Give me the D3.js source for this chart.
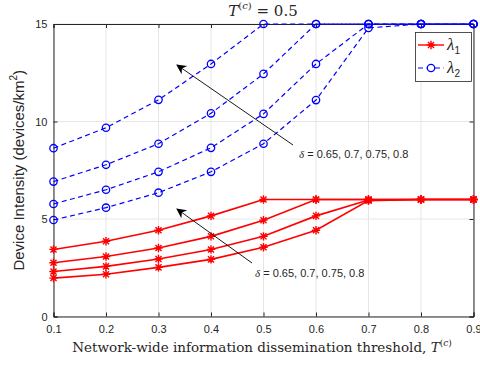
<!DOCTYPE html>
<html><head><meta charset="utf-8">
<script src="https://cdn.jsdelivr.net/npm/d3@7"></script>
<style>body{margin:0;background:#fff}svg{display:block}</style>
</head><body><svg id="c" width="480" height="367"></svg>
<script>
const thresholds = [0.1,0.2,0.3,0.4,0.5,0.6,0.7,0.8,0.9];
const lambda1 = [
  [3.44,3.86,4.42,5.16,6.0,6.0,6.0,6.0,6.0],
  [2.76,3.08,3.51,4.11,4.94,6.0,6.0,6.0,6.0],
  [2.31,2.57,2.95,3.44,4.11,5.16,5.97,6.0,6.0],
  [1.97,2.17,2.52,2.93,3.55,4.42,5.94,6.0,6.0]
];
const lambda2 = [
  [8.63,9.68,11.11,12.95,15,15,15,15,15],
  [6.92,7.78,8.86,10.42,12.44,15,15,15,15],
  [5.77,6.5,7.42,8.65,10.39,12.95,15,15,15],
  [4.95,5.58,6.35,7.42,8.86,11.1,14.8,15,15]
];
const xTicks = [0.1,0.2,0.3,0.4,0.5,0.6,0.7,0.8,0.9];
const yTicks = [0,5,10,15];
const deltaText = "δ";
const deltaVals = " = 0.65, 0.7, 0.75, 0.8";

const svg = d3.select("#c");
const L=53.5,R=473.5,T=24,B=316.5;
const x = d3.scaleLinear().domain([0.1,0.9]).range([L,R]);
const y = d3.scaleLinear().domain([0,15]).range([B,T]);
const sans = "Liberation Sans, Arial, sans-serif";
const serif = "DejaVu Serif, serif";

// grid
const g = svg.append("g");
g.selectAll(".gx").data(xTicks).enter().append("line")
 .attr("x1",d=>x(d)).attr("x2",d=>x(d)).attr("y1",T).attr("y2",B)
 .attr("stroke","#e6e6e6").attr("stroke-width",1);
g.selectAll(".gy").data(yTicks).enter().append("line")
 .attr("x1",L).attr("x2",R).attr("y1",d=>y(d)).attr("y2",d=>y(d))
 .attr("stroke","#e6e6e6").attr("stroke-width",1);

// axes
const xa = svg.append("g").attr("transform",`translate(0,${B})`)
 .call(d3.axisBottom(x).tickValues(xTicks).tickSize(-4).tickPadding(9).tickFormat(d3.format(".1f")));
const ya = svg.append("g").attr("transform",`translate(${L},0)`)
 .call(d3.axisLeft(y).tickValues(yTicks).tickSize(-4).tickPadding(6));
[xa,ya].forEach(a=>{
  a.selectAll("path").attr("stroke","#262626");
  a.selectAll("line").attr("stroke","#262626");
  a.selectAll("text").attr("font-family",sans).attr("font-size",11).attr("fill","#262626");
});
// top & right ticks + box
svg.append("g").attr("transform",`translate(0,${T})`)
 .call(d3.axisTop(x).tickValues(xTicks).tickSize(-4).tickFormat(""))
 .call(a=>{a.selectAll("path,line").attr("stroke","#262626");});
svg.append("g").attr("transform",`translate(${R},0)`)
 .call(d3.axisRight(y).tickValues(yTicks).tickSize(-4).tickFormat(""))
 .call(a=>{a.selectAll("path,line").attr("stroke","#262626");});

const line = d3.line().x((d,i)=>x(thresholds[i])).y(d=>y(d));

// blue series
lambda2.forEach(s=>{
  svg.append("path").attr("d",line(s)).attr("fill","none")
   .attr("stroke","#0000ff").attr("stroke-width",1.2).attr("stroke-dasharray","5,3.5");
  svg.selectAll(null).data(s).enter().append("circle")
   .attr("cx",(d,i)=>x(thresholds[i])).attr("cy",d=>y(d)).attr("r",3.7)
   .attr("fill","none").attr("stroke","#0000ff").attr("stroke-width",1.3);
});
// red series
const star = (sel,cx,cy,r)=>{
  const p = `M${-r},0L${r},0M0,${-r}L0,${r}M${-r*0.72},${-r*0.72}L${r*0.72},${r*0.72}M${-r*0.72},${r*0.72}L${r*0.72},${-r*0.72}`;
  sel.append("path").attr("d",p).attr("transform",`translate(${cx},${cy})`)
   .attr("stroke","#ff0000").attr("stroke-width",1.4).attr("fill","none");
};
lambda1.forEach(s=>{
  svg.append("path").attr("d",line(s)).attr("fill","none")
   .attr("stroke","#ff0000").attr("stroke-width",1.6);
  s.forEach((d,i)=>star(svg,x(thresholds[i]),y(d),4.2));
});

// arrows
const defs = svg.append("defs");
defs.append("marker").attr("id","ah").attr("viewBox","0 0 10 10").attr("refX",9).attr("refY",5)
 .attr("markerWidth",12).attr("markerHeight",10).attr("markerUnits","userSpaceOnUse").attr("orient","auto")
 .append("path").attr("d","M0,0L10,5L0,10L3,5Z").attr("fill","#000");
const arrows = [[293,145,177,65],[252,263,177,209]];
arrows.forEach(a=>{
  svg.append("line").attr("x1",a[0]).attr("y1",a[1]).attr("x2",a[2]).attr("y2",a[3])
   .attr("stroke","#000").attr("stroke-width",0.9).attr("marker-end","url(#ah)");
});
const labels = [[299,158],[255,277]];
labels.forEach(p=>{
  const t = svg.append("text").attr("x",p[0]).attr("y",p[1]).attr("font-size",11).attr("fill","#262626");
  t.append("tspan").attr("font-family","Liberation Serif, serif").attr("font-style","italic").text(deltaText);
  t.append("tspan").attr("font-family",sans).text(deltaVals);
});

// legend
svg.append("rect").attr("x",415.5).attr("y",32.5).attr("width",56).attr("height",49)
 .attr("fill","#fff").attr("stroke","#262626").attr("stroke-width",0.8);
svg.append("line").attr("x1",418).attr("x2",444).attr("y1",45).attr("y2",45).attr("stroke","#ff0000").attr("stroke-width",1.4);
star(svg,431,45,4.2);
svg.append("line").attr("x1",418).attr("x2",444).attr("y1",68).attr("y2",68).attr("stroke","#0000ff").attr("stroke-width",1.2).attr("stroke-dasharray","5,3.5");
svg.append("circle").attr("cx",431).attr("cy",68).attr("r",3.7).attr("fill","#fff").attr("stroke","#0000ff").attr("stroke-width",1.3);
[["1",50],["2",73]].forEach(l=>{
  const t = svg.append("text").attr("x",447).attr("y",l[1]).attr("font-family","Liberation Serif, serif").attr("font-style","italic").attr("font-size",17).attr("fill","#262626");
  t.append("tspan").text("λ");
  t.append("tspan").attr("font-style","normal").attr("font-family",sans).attr("font-size",10).attr("dy",4).text(l[0]);
});

// title
const tt = svg.append("text").attr("x",263).attr("y",16).attr("text-anchor","middle")
 .attr("font-family",serif).attr("font-size",15).attr("fill","#262626");
tt.append("tspan").attr("font-style","italic").text("T");
tt.append("tspan").attr("font-size",10).attr("dy",-7).text("(");
tt.append("tspan").attr("font-size",10).attr("font-style","italic").text("c");
tt.append("tspan").attr("font-size",10).text(")");
tt.append("tspan").attr("dy",7).text(" = 0.5");

// x label
const xl = svg.append("text").attr("x",262).attr("y",352).attr("text-anchor","middle")
 .attr("font-family",serif).attr("font-size",13.5).attr("fill","#262626");
xl.append("tspan").text("Network-wide information dissemination threshold, ");
xl.append("tspan").attr("font-style","italic").text("T");
xl.append("tspan").attr("font-size",9).attr("dy",-6).text("(");
xl.append("tspan").attr("font-size",9).attr("font-style","italic").text("c");
xl.append("tspan").attr("font-size",9).text(")");

// y label
const yl = svg.append("text").attr("transform",`translate(24,${(T+B)/2}) rotate(-90)`).attr("text-anchor","middle")
 .attr("font-family",sans).attr("font-size",15).attr("fill","#262626");
yl.append("tspan").text("Device Intensity (devices/km");
yl.append("tspan").attr("font-size",10).attr("dy",-7).text("2");
yl.append("tspan").attr("dy",7).text(")");
</script></body></html>
